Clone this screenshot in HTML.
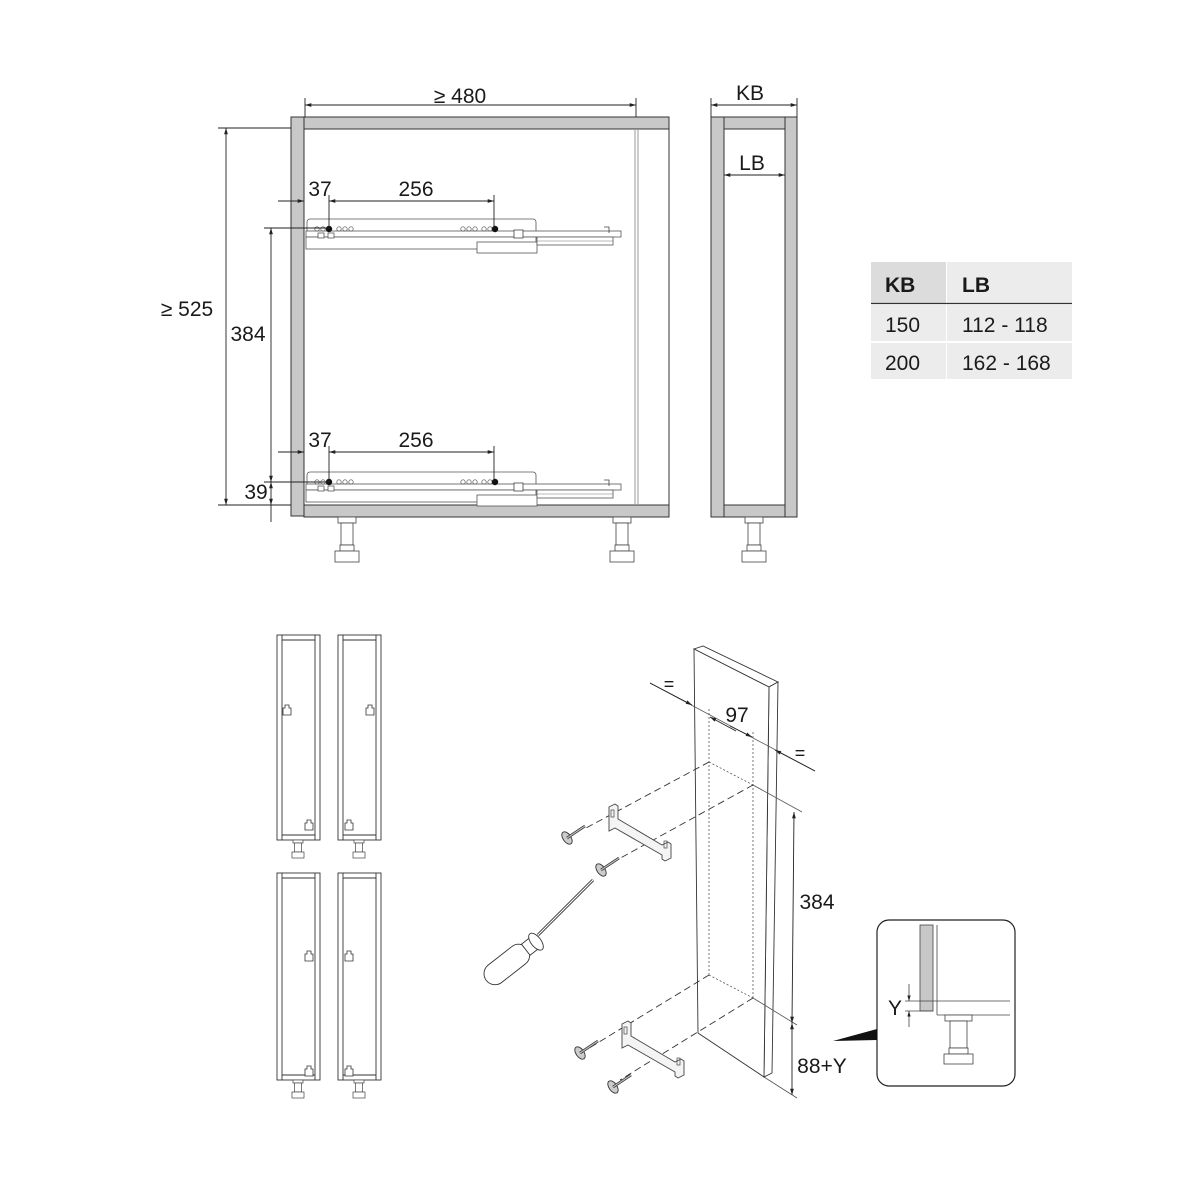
<!DOCTYPE html>
<html><head><meta charset="utf-8"><style>
html,body{margin:0;padding:0;background:#fff;}
svg{display:block;}
text{font-family:"Liberation Sans",sans-serif;fill:#1a1a1a;}
</style></head><body>
<svg width="1200" height="1200" viewBox="0 0 1200 1200" xmlns="http://www.w3.org/2000/svg">
<defs>
<marker id="a" viewBox="0 0 10 10" refX="10" refY="5" markerWidth="7" markerHeight="7" orient="auto-start-reverse"><path d="M0,2 L10,5 L0,8 z" fill="#222"/></marker>
<g id="runner">
  <rect x="307" y="0" width="229" height="22" rx="3" fill="#fff" stroke="#555" stroke-width="0.8"/>
  <rect x="306" y="12" width="315" height="6" fill="#fff" stroke="#555" stroke-width="0.8"/>
  <rect x="306" y="18" width="230" height="12" fill="#fff" stroke="#555" stroke-width="0.8"/>
  <rect x="477" y="23" width="60" height="11" fill="#fff" stroke="#555" stroke-width="0.8"/>
  <rect x="537" y="18" width="76" height="8" fill="#fff" stroke="#555" stroke-width="0.8"/>
  <line x1="537" y1="22" x2="613" y2="22" stroke="#777" stroke-width="0.6"/>
  <rect x="514" y="11" width="9" height="8" fill="#fff" stroke="#444" stroke-width="0.8"/>
  <rect x="318" y="14" width="6" height="5" fill="#fff" stroke="#444" stroke-width="0.7"/>
  <rect x="328" y="14" width="6" height="5" fill="#fff" stroke="#444" stroke-width="0.7"/>
  <path d="M604,8 h5 v6" fill="none" stroke="#444" stroke-width="0.8"/>
  <g fill="none" stroke="#555" stroke-width="0.7">
    <circle cx="317" cy="10" r="2.2"/><circle cx="323" cy="10" r="2.2"/>
    <circle cx="339" cy="10" r="2.2"/><circle cx="345" cy="10" r="2.2"/><circle cx="351" cy="10" r="2.2"/>
    <circle cx="463" cy="10" r="2.2"/><circle cx="469" cy="10" r="2.2"/><circle cx="475" cy="10" r="2.2"/>
    <circle cx="484" cy="10" r="2.2"/><circle cx="490" cy="10" r="2.2"/>
  </g>
  <circle cx="329" cy="10" r="3.2" fill="#111"/><circle cx="495" cy="10" r="3.2" fill="#111"/>
</g>
<g id="foot">
  <rect x="-9" y="0" width="18" height="6" fill="#fff" stroke="#444" stroke-width="0.8"/>
  <rect x="-6" y="6" width="12" height="22" fill="#fff" stroke="#444" stroke-width="0.8"/>
  <rect x="-7" y="28" width="14" height="6" fill="#fff" stroke="#444" stroke-width="0.8"/>
  <rect x="-12" y="34" width="24" height="11" fill="#fff" stroke="#444" stroke-width="0.8"/>
</g>
<g id="sfoot">
  <rect x="-5" y="0" width="10" height="3" fill="#fff" stroke="#444" stroke-width="0.7"/>
  <rect x="-3.5" y="3" width="7" height="9" fill="#fff" stroke="#444" stroke-width="0.7"/>
  <rect x="-6" y="12" width="12" height="6" fill="#fff" stroke="#444" stroke-width="0.7"/>
</g>
<g id="clip">
  <path d="M-2,-7 h4 v3 h2 v7 h-8 v-7 h2 z" fill="#fff" stroke="#333" stroke-width="0.8"/>
</g>
<g id="screw">
  <ellipse cx="0" cy="0" rx="4" ry="7" fill="#ccc" stroke="#333" stroke-width="0.9" transform="rotate(-35)"/>
  <line x1="0" y1="0" x2="18" y2="-12" stroke="#333" stroke-width="2.6"/>
  <line x1="0" y1="0" x2="18" y2="-12" stroke="#bbb" stroke-width="1.2"/>
</g>
<g id="bracket">
  <path d="M0,0 l6,-3 l3,2 l0,13 l44,26 l6,-3 l3,2 l0,14 l-6,3 l-3,-2 l0,-4 l-47,-27 l-6,3 l0,-14 z" fill="#f4f4f4" stroke="#444" stroke-width="0.9"/>
  <rect x="2" y="3" width="3" height="7" fill="none" stroke="#444" stroke-width="0.7"/>
  <rect x="55" y="34" width="3" height="7" fill="none" stroke="#444" stroke-width="0.7"/>
</g>
</defs>

<!-- ===== Front cabinet ===== -->
<rect x="291" y="117" width="13" height="399" fill="#c8c8c8" stroke="#333" stroke-width="1"/>
<rect x="304" y="117" width="365" height="12" fill="#c8c8c8" stroke="#333" stroke-width="1"/>
<rect x="304" y="505" width="365" height="12" fill="#c8c8c8" stroke="#333" stroke-width="1"/>
<line x1="669" y1="129" x2="669" y2="505" stroke="#333" stroke-width="1"/>
<line x1="635" y1="129" x2="635" y2="505" stroke="#999" stroke-width="1"/>
<line x1="638" y1="129" x2="638" y2="505" stroke="#999" stroke-width="1"/>
<use href="#foot" x="347" y="517"/>
<use href="#foot" x="622" y="517"/>
<use href="#runner" x="0" y="219"/>
<use href="#runner" x="0" y="472"/>

<g stroke="#222" stroke-width="0.9" fill="none">
  <line x1="305" y1="98" x2="305" y2="117"/><line x1="636" y1="98" x2="636" y2="117"/>
  <line x1="305" y1="105" x2="636" y2="105" marker-start="url(#a)" marker-end="url(#a)"/>
  <line x1="218" y1="128" x2="291" y2="128"/><line x1="218" y1="505" x2="291" y2="505"/>
  <line x1="226" y1="128" x2="226" y2="505" marker-start="url(#a)" marker-end="url(#a)"/>
  <line x1="264" y1="228" x2="329" y2="228"/><line x1="264" y1="482" x2="329" y2="482"/>
  <line x1="271" y1="228" x2="271" y2="482" marker-start="url(#a)" marker-end="url(#a)"/>
  <line x1="271" y1="482" x2="271" y2="505" marker-start="url(#a)" marker-end="url(#a)"/>
  <line x1="271" y1="505" x2="271" y2="522"/>
  <line x1="278" y1="201" x2="304" y2="201" marker-end="url(#a)"/>
  <line x1="329" y1="195" x2="329" y2="229"/><line x1="494" y1="195" x2="494" y2="229"/>
  <line x1="329" y1="201" x2="494" y2="201" marker-start="url(#a)" marker-end="url(#a)"/>
  <line x1="278" y1="452" x2="304" y2="452" marker-end="url(#a)"/>
  <line x1="329" y1="446" x2="329" y2="482"/><line x1="494" y1="446" x2="494" y2="482"/>
  <line x1="329" y1="452" x2="494" y2="452" marker-start="url(#a)" marker-end="url(#a)"/>
</g>
<text x="460" y="103" font-size="21" text-anchor="middle">≥ 480</text>
<text x="187" y="316" font-size="21" text-anchor="middle">≥ 525</text>
<text x="248" y="341" font-size="21" text-anchor="middle">384</text>
<text x="256" y="499" font-size="21" text-anchor="middle">39</text>
<text x="320" y="196" font-size="21" text-anchor="middle">37</text>
<text x="416" y="196" font-size="21" text-anchor="middle">256</text>
<text x="320" y="447" font-size="21" text-anchor="middle">37</text>
<text x="416" y="447" font-size="21" text-anchor="middle">256</text>

<!-- ===== Side view ===== -->
<rect x="711" y="117" width="13" height="400" fill="#c8c8c8" stroke="#333" stroke-width="1"/>
<rect x="785" y="117" width="12" height="400" fill="#c8c8c8" stroke="#333" stroke-width="1"/>
<rect x="724" y="117" width="61" height="12" fill="#c8c8c8" stroke="#333" stroke-width="1"/>
<rect x="724" y="505" width="61" height="12" fill="#c8c8c8" stroke="#333" stroke-width="1"/>
<use href="#foot" x="754" y="517"/>
<g stroke="#222" stroke-width="0.9" fill="none">
  <line x1="711" y1="98" x2="711" y2="117"/><line x1="797" y1="98" x2="797" y2="117"/>
  <line x1="711" y1="105" x2="797" y2="105" marker-start="url(#a)" marker-end="url(#a)"/>
  <line x1="724" y1="175" x2="785" y2="175" marker-start="url(#a)" marker-end="url(#a)"/>
</g>
<text x="750" y="100" font-size="21" text-anchor="middle">KB</text>
<text x="752" y="170" font-size="21" text-anchor="middle">LB</text>

<!-- ===== Table ===== -->
<rect x="871" y="262" width="75" height="41" fill="#dcdcdc"/>
<rect x="947" y="262" width="125" height="41" fill="#ececec"/>
<rect x="871" y="305" width="75" height="36" fill="#ececec"/>
<rect x="947" y="305" width="125" height="36" fill="#ececec"/>
<rect x="871" y="343" width="75" height="36" fill="#ececec"/>
<rect x="947" y="343" width="125" height="36" fill="#ececec"/>
<line x1="871" y1="303.5" x2="1072" y2="303.5" stroke="#333" stroke-width="1.3"/>
<text x="885" y="292" font-size="21" font-weight="bold">KB</text>
<text x="962" y="292" font-size="21" font-weight="bold">LB</text>
<text x="885" y="332" font-size="21">150</text>
<text x="962" y="332" font-size="21">112 - 118</text>
<text x="885" y="370" font-size="21">200</text>
<text x="962" y="370" font-size="21">162 - 168</text>

<!-- ===== Small cabinets ===== -->
<g fill="none" stroke="#333" stroke-width="0.9">
  <rect x="277" y="635" width="43" height="205"/><line x1="282" y1="635" x2="282" y2="840"/><line x1="315" y1="635" x2="315" y2="840"/><line x1="282" y1="640" x2="315" y2="640"/><line x1="282" y1="835" x2="315" y2="835"/>
  <rect x="338" y="635" width="43" height="205"/><line x1="343" y1="635" x2="343" y2="840"/><line x1="376" y1="635" x2="376" y2="840"/><line x1="343" y1="640" x2="376" y2="640"/><line x1="343" y1="835" x2="376" y2="835"/>
  <rect x="277" y="873" width="43" height="207"/><line x1="282" y1="873" x2="282" y2="1080"/><line x1="315" y1="873" x2="315" y2="1080"/><line x1="282" y1="878" x2="315" y2="878"/><line x1="282" y1="1075" x2="315" y2="1075"/>
  <rect x="338" y="873" width="43" height="207"/><line x1="343" y1="873" x2="343" y2="1080"/><line x1="376" y1="873" x2="376" y2="1080"/><line x1="343" y1="878" x2="376" y2="878"/><line x1="343" y1="1075" x2="376" y2="1075"/>
</g>
<use href="#clip" x="287" y="712"/><use href="#clip" x="370" y="712"/>
<use href="#clip" x="309" y="827"/><use href="#clip" x="349" y="827"/>
<use href="#clip" x="309" y="958"/><use href="#clip" x="349" y="958"/>
<use href="#clip" x="309" y="1073"/><use href="#clip" x="349" y="1073"/>
<use href="#sfoot" x="298" y="840"/><use href="#sfoot" x="359" y="840"/>
<use href="#sfoot" x="298" y="1080"/><use href="#sfoot" x="359" y="1080"/>

<!-- ===== Panel isometric ===== -->
<g fill="#fff" stroke="#333" stroke-width="0.9">
  <path d="M694,649 L703,646 L778,682 L769,687 Z"/>
  <path d="M769,687 L778,682 L772,1073 L764,1077 Z"/>
  <path d="M694,649 L769,687 L764,1077 L698,1033 Z"/>
</g>
<g stroke="#555" stroke-width="0.8" fill="none">
  <line x1="709" y1="709" x2="709" y2="975" stroke-dasharray="2,2"/>
  <line x1="753" y1="732" x2="753" y2="998" stroke-dasharray="2,2"/>
  <line x1="709" y1="762" x2="753" y2="785" stroke-dasharray="2,2"/>
  <line x1="709" y1="975" x2="753" y2="998" stroke-dasharray="2,2"/>
  <line x1="650" y1="683" x2="815" y2="771"/>
  <line x1="753" y1="785" x2="802" y2="812"/>
  <line x1="753" y1="998" x2="797" y2="1025"/>
  <line x1="764" y1="1077" x2="797" y2="1098"/>
</g>
<g stroke="#222" stroke-width="0.9" fill="none">
  <line x1="650" y1="683" x2="692" y2="705" marker-end="url(#a)"/>
  <line x1="736" y1="731" x2="710" y2="717" marker-end="url(#a)"/>
  <line x1="730" y1="726" x2="752" y2="737" marker-end="url(#a)"/>
  <line x1="815" y1="771" x2="775" y2="750" marker-end="url(#a)"/>
  <line x1="794" y1="812" x2="792" y2="1023" marker-start="url(#a)" marker-end="url(#a)"/>
  <line x1="792" y1="1023" x2="792" y2="1095" marker-start="url(#a)" marker-end="url(#a)"/>
</g>
<text x="669" y="690" font-size="18" text-anchor="middle">=</text>
<text x="737" y="722" font-size="21" text-anchor="middle">97</text>
<text x="800" y="759" font-size="18" text-anchor="middle">=</text>
<text x="817" y="909" font-size="21" text-anchor="middle">384</text>
<text x="822" y="1073" font-size="21" text-anchor="middle">88+Y</text>

<g stroke="#333" stroke-width="0.9" fill="none" stroke-dasharray="7,4">
  <line x1="709" y1="762" x2="586" y2="828"/>
  <line x1="753" y1="785" x2="606" y2="866"/>
  <line x1="709" y1="975" x2="586" y2="1050"/>
  <line x1="753" y1="998" x2="620" y2="1080"/>
</g>
<use href="#bracket" x="609" y="807"/>
<use href="#bracket" x="622" y="1024"/>
<use href="#screw" x="567" y="838"/>
<use href="#screw" x="601" y="870"/>
<use href="#screw" x="580" y="1053"/>
<use href="#screw" x="613" y="1087"/>

<g stroke="#333" stroke-width="0.9" fill="#fff">
  <line x1="538" y1="935" x2="593" y2="880" stroke-width="3"/>
  <line x1="538" y1="935" x2="593" y2="880" stroke="#fff" stroke-width="1.2"/>
  <g transform="translate(510,962) rotate(-38)">
    <rect x="-30" y="-11" width="52" height="22" rx="11"/>
    <rect x="20" y="-7" width="10" height="14"/>
    <ellipse cx="33" cy="0" rx="5" ry="10"/>
  </g>
</g>

<!-- inset -->
<rect x="877" y="920" width="138" height="166" rx="12" fill="#fff" stroke="#222" stroke-width="1.2"/>
<rect x="920" y="925" width="13" height="86" fill="#c8c8c8" stroke="#444" stroke-width="0.8"/>
<g stroke="#444" stroke-width="0.8" fill="none">
  <line x1="937" y1="925" x2="937" y2="1015"/>
  <line x1="905" y1="1001" x2="1010" y2="1001"/>
  <line x1="937" y1="1015" x2="1010" y2="1015"/>
  <line x1="905" y1="1011" x2="933" y2="1011"/>
  <line x1="909" y1="984" x2="909" y2="1001" marker-end="url(#a)"/>
  <line x1="909" y1="1027" x2="909" y2="1011" marker-end="url(#a)"/>
  <rect x="945" y="1015" width="27" height="6" fill="#fff"/>
  <rect x="950" y="1021" width="17" height="27" fill="#fff"/>
  <rect x="949" y="1048" width="19" height="6" fill="#fff"/>
  <rect x="944" y="1054" width="29" height="10" fill="#fff"/>
</g>
<text x="895" y="1015" font-size="21" text-anchor="middle">Y</text>
<path d="M833,1041 L877,1029 L877,1040 Z" fill="#111"/>
</svg>
</body></html>
